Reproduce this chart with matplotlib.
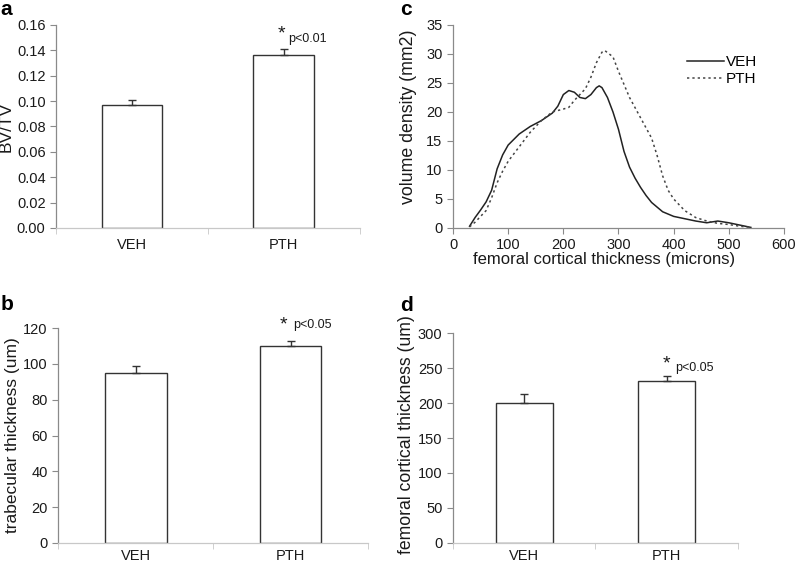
import numpy as np
import matplotlib
matplotlib.use('Agg')
import matplotlib.pyplot as plt

plt.rcParams['font.family'] = ['Liberation Sans', 'DejaVu Sans']

# data
groups = ['VEH', 'PTH']
bvtv = [0.097, 0.136]
bvtv_err = [0.004, 0.005]
tb_th = [95, 110]
tb_th_err = [4, 3]
ct_th = [200, 232]
ct_th_err = [13, 6]

# volume density curves (panel c)
x_veh = [30, 40, 50, 60, 70, 80, 90, 100, 120, 140, 160, 180, 190, 200, 210, 220, 230, 240,
         250, 260, 265, 270, 280, 290, 300, 310, 320, 330, 340, 350, 360, 380, 400, 420,
         440, 460, 480, 500, 520, 540]
y_veh = [0.3, 1.8, 3.1, 4.5, 6.5, 10.2, 12.6, 14.3, 16.2, 17.5, 18.5, 19.8, 21.0, 23.0,
         23.7, 23.4, 22.5, 22.3, 23.0, 24.2, 24.5, 24.2, 22.5, 20.0, 17.0, 13.2, 10.5, 8.6,
         7.0, 5.6, 4.4, 2.8, 2.0, 1.6, 1.2, 0.9, 1.2, 0.9, 0.5, 0.1]
x_pth = [30, 40, 50, 60, 70, 80, 90, 100, 120, 140, 160, 180, 200, 210, 220, 240, 250, 260,
         270, 275, 290, 300, 320, 340, 360, 370, 380, 390, 400, 420, 440, 460, 480, 500,
         520, 540]
y_pth = [0.2, 1.0, 2.0, 3.0, 5.2, 7.8, 9.8, 11.5, 14.0, 16.5, 18.5, 20.0, 20.5, 20.8, 22.0,
         24.0, 26.0, 28.5, 30.3, 30.6, 29.5, 27.0, 22.5, 19.0, 15.5, 12.5, 9.0, 6.5, 5.0,
         3.0, 1.8, 1.2, 0.8, 0.6, 0.3, 0.1]

spine_col = '#8a8a8a'
txt_col = '#1a1a1a'

fig = plt.figure(figsize=(7.96, 5.61), dpi=100)


def style_axes(ax):
    for s in ['top', 'right']:
        ax.spines[s].set_visible(False)
    for s in ['left', 'bottom']:
        ax.spines[s].set_color(spine_col)
        ax.spines[s].set_linewidth(0.9)
    ax.tick_params(colors=spine_col, labelcolor=txt_col, labelsize=10.5, direction='out', length=4)


def bar_panel(rect, vals, errs, ylim, yticks, ylabel, ylsize, fmt, sig, star_off, p_off,
              xpad, letter, letter_pos):
    ax = fig.add_axes(rect)
    xs = np.arange(len(groups))
    ax.bar(xs, vals, width=0.4, color='white', edgecolor='#333333', linewidth=1.0, zorder=2)
    ax.errorbar(xs, vals, yerr=[[0] * len(errs), errs], fmt='none', ecolor='#333333',
                elinewidth=1.0, capsize=3, capthick=1.0, zorder=3)
    ax.set_xlim(-0.5, 1.5)
    ax.set_ylim(*ylim)
    ax.set_yticks(yticks)
    ax.set_yticklabels([fmt.format(t) for t in yticks])
    ax.set_xticks(xs)
    ax.set_xticklabels(groups)
    ax.set_xticks([-0.5, 0.5, 1.5], minor=True)
    style_axes(ax)
    ax.tick_params(axis='x', which='major', length=0, pad=xpad)
    ax.tick_params(axis='x', which='minor', length=4, colors='#c8c8c8')
    ax.spines['bottom'].set_color('#c8c8c8')
    ax.set_ylabel(ylabel, fontsize=ylsize, color=txt_col, labelpad=2)
    top = vals[1] + errs[1]
    ax.annotate('*', xy=(1, top), xytext=star_off, textcoords='offset points',
                ha='center', va='center', fontsize=14, color=txt_col)
    ax.annotate(sig, xy=(1, top), xytext=p_off, textcoords='offset points',
                ha='left', va='center', fontsize=9, color=txt_col)
    fig.text(letter_pos[0], letter_pos[1], letter, fontsize=15, fontweight='bold',
             ha='left', va='top', color='black')
    return ax


# panel a
bar_panel([0.0704, 0.5936, 0.3816, 0.3619], bvtv, bvtv_err, (0, 0.16),
          np.arange(0, 0.161, 0.02), 'BV/TV', 12.5, '{:.2f}', 'p<0.01',
          (-2, 11), (3, 7), 7, 'a', (0.001, 1.0))

# panel b
bar_panel([0.0729, 0.0321, 0.3894, 0.3832], tb_th, tb_th_err, (0, 120),
          np.arange(0, 121, 20), 'trabecular thickness (um)', 12.5, '{:.0f}', 'p<0.05',
          (-5, 11), (2, 11), 4, 'b', (0.001, 0.474))

# panel d
axd = bar_panel([0.5691, 0.0321, 0.3580, 0.3743], ct_th, ct_th_err, (0, 300),
                np.arange(0, 301, 50), 'femoral cortical thickness (um)', 12.7, '{:.0f}',
                'p<0.05', (0, 9), (6, 6), 4, 'd', (0.503, 0.472))
axd.yaxis.set_label_coords(-0.133, 0.515)

# panel c
axc = fig.add_axes([0.5691, 0.5936, 0.4158, 0.3619])
axc.plot(x_veh, y_veh, color='#222222', lw=1.1, ls='-', label='VEH')
axc.plot(x_pth, y_pth, color='#444444', lw=1.1, ls=(0, (1.5, 2)), label='PTH')
axc.set_xlim(0, 600)
axc.set_ylim(0, 35)
axc.set_xticks(np.arange(0, 601, 100))
axc.set_yticks(np.arange(0, 36, 5))
style_axes(axc)
axc.set_xlabel('femoral cortical thickness (microns)', fontsize=12, color=txt_col)
axc.xaxis.set_label_coords(0.455, -0.12)
axc.set_ylabel('volume density (mm2)', fontsize=12.8, color=txt_col)
axc.yaxis.set_label_coords(-0.109, 0.547)
axc.legend(loc='upper left', bbox_to_anchor=(0.69, 0.88), frameon=False, fontsize=11,
           handlelength=2.4, handletextpad=0.1, labelspacing=0.2, borderaxespad=0)
fig.text(0.503, 1.0, 'c', fontsize=15, fontweight='bold', ha='left', va='top', color='black')

fig.savefig('out.png', dpi=100)
